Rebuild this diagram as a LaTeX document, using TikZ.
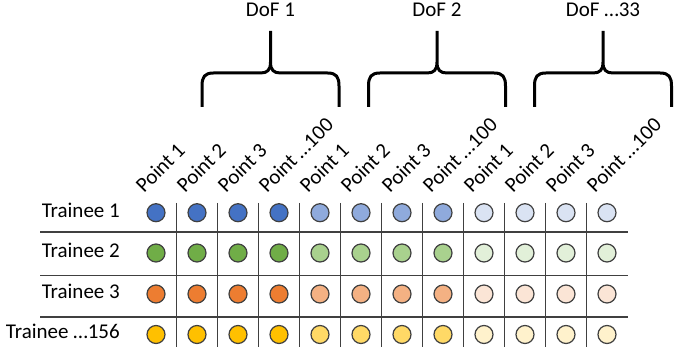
\documentclass[tikz,border=0pt]{standalone}
\usepackage{fontspec}
\setmainfont{Carlito}
\definecolor{bA}{HTML}{4472C4}\definecolor{bB}{HTML}{8FAADC}\definecolor{bC}{HTML}{DAE3F3}
\definecolor{gA}{HTML}{70AD47}\definecolor{gB}{HTML}{A9D18E}\definecolor{gC}{HTML}{E2F0D9}
\definecolor{oA}{HTML}{ED7D31}\definecolor{oB}{HTML}{F4B183}\definecolor{oC}{HTML}{FBE5D6}
\definecolor{yA}{HTML}{FFC000}\definecolor{yB}{HTML}{FFD966}\definecolor{yC}{HTML}{FFF2CC}
\definecolor{gridc}{HTML}{404040}
\tikzset{
  lbl/.style={font=\fontsize{21}{24}\selectfont, inner sep=0pt, text=black},
  ptlbl/.style={lbl, rotate=45, anchor=base west},
  dot/.style={circle, draw=gridc, line width=1.2pt, minimum size=18pt, inner sep=0pt},
  gridline/.style={draw=gridc, line width=1.3pt},
  bracepath/.style={draw=black, line width=3pt, line join=round}
}
\begin{document}
\begin{tikzpicture}[x=1pt,y=-1pt]
\useasboundingbox (0,0) rectangle (678,347);
% grid
\foreach \y in {232,275.5,317} \draw[gridline] (40,\y) -- (628,\y);
\foreach \j in {0,...,10} \draw[gridline] ({176.5+41*\j},203) -- ({176.5+41*\j},347);
% row labels
\node[lbl, anchor=base east] (t1) at (120,217.5) {Trainee 1};
\node[lbl, anchor=base east] (t2) at (120,257.5) {Trainee 2};
\node[lbl, anchor=base east] (t3) at (120,298.5) {Trainee 3};
\node[lbl, anchor=base east] (t4) at (120,339) {Trainee …156};
% circles
\foreach \r/\yy/\ca/\cb/\cc in {1/212.7/bA/bB/bC, 2/253/gA/gB/gC, 3/294/oA/oB/oC, 4/334.5/yA/yB/yC}{
  \foreach \i in {0,...,11}{
    \pgfmathsetmacro{\xx}{156+41*\i}
    \ifnum\i<4 \def\fc{\ca}\else\ifnum\i<8 \def\fc{\cb}\else\def\fc{\cc}\fi\fi
    \node[dot, fill=\fc] (c-\r-\i) at (\xx,\yy) {};
  }
}
% point labels
\foreach \i/\t in {0/Point 1,1/Point 2,2/Point 3,3/Point …100,4/Point 1,5/Point 2,6/Point 3,7/Point …100,8/Point 1,9/Point 2,10/Point 3,11/Point …100}{
  \node[ptlbl] (p-\i) at ({144+41*\i},194) {\t};
}
% braces
\foreach \m/\t/\n in {270.5/DoF 1/d1, 437/DoF 2/d2, 603/DoF …33/d3}{
  \begin{scope}[shift={(\m,0)}]
    \draw[bracepath] (-68.5,107) -- (-68.5,86) .. controls (-68.5,77) and (-66,73) .. (-57,73)
      -- (-10,73) .. controls (-3,73) and (0,70) .. (0,62) -- (0,31)
      (0,62) .. controls (0,70) and (3,73) .. (10,73) -- (57,73)
      .. controls (66,73) and (68.5,77) .. (68.5,86) -- (68.5,107);
  \end{scope}
  \node[lbl, anchor=base] (\n) at (\m,17) {\t};
}
\end{tikzpicture}
\end{document}
